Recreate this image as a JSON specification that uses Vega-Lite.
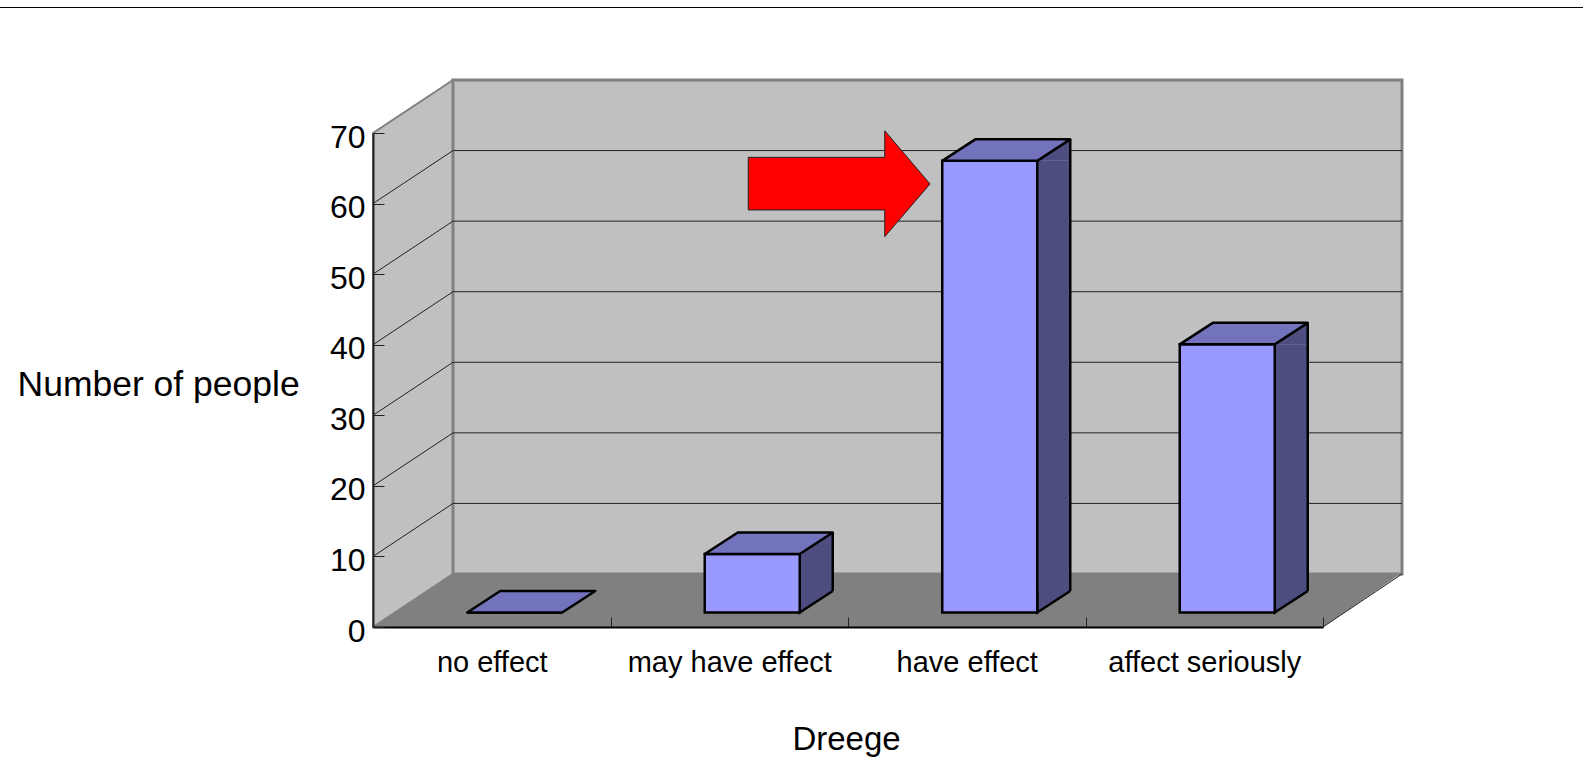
{
"$schema":"https://vega.github.io/schema/vega-lite/v6.json",
"width":950,"height":494,
"autosize":{"type":"none"},
"padding":{"left":373,"top":133,"right":260,"bottom":132},
"background":"white",
"config":{"view":{"stroke":null},"font":"Liberation Sans"},
"datasets":{
"bars":[{"category":"no effect","value":0},{"category":"may have effect","value":8.3},{"category":"have effect","value":64},{"category":"affect seriously","value":38}],
"grid":[{"tick":10},{"tick":20},{"tick":30},{"tick":40},{"tick":50},{"tick":60}]
},
"data":{"name":"bars"},
"encoding":{
"x":{"field":"category","type":"nominal","sort":null,"scale":{"type":"band","domain":["no effect","may have effect","have effect","affect seriously"],"paddingInner":0,"paddingOuter":0},
"axis":{"zindex":1,"title":"Dreege","titleFont":"Liberation Sans","titleFontSize":33,"titleFontWeight":"normal","titleColor":"black","titleX":473,"titleY":112,"titleBaseline":"middle","labelAngle":0,"labelFontSize":29,"labelColor":"black","labelPadding":31,"labelBaseline":"top","labelLimit":0,"domainColor":"black","domainWidth":2,"tickColor":"#222222","tickWidth":1,"tickSize":-10,"tickBand":"extent","labelOverlap":false}},
"y":{"field":"value","type":"quantitative","scale":{"domain":[0,70],"nice":false,"zero":true},
"axis":{"zindex":1,"values":[0,10,20,30,40,50,60,70],"title":"Number of people","titleFontSize":35.5,"titleFontWeight":"normal","titleColor":"black","titleAngle":0,"titleAlign":"left","titleBaseline":"middle","titleX":-356,"titleY":251,"labelFontSize":32,"labelColor":"black","labelPadding":19,"labelOffset":4,"domainColor":"#222222","domainWidth":2,"tickColor":"#222222","tickWidth":1,"tickSize":-11,"grid":false}}
},
"layer":[
{"transform":[{"filter":"datum.category==='no effect'"}],
 "mark":{"type":"point","filled":true,"opacity":1,"size":4,"fill":"#c0c0c0","stroke":"#808080","strokeWidth":2,"shape":"M80,-53 L0,0 L0,-494 L80,-547"},
 "encoding":{"x":{"field":"category","type":"nominal","bandPosition":0}}},
{"transform":[{"filter":"datum.category==='no effect'"}],
 "mark":{"type":"point","filled":true,"opacity":1,"size":4,"fill":"#c0c0c0","stroke":"#808080","strokeWidth":3,"shape":"M80,-53 L80,-547 L1029,-547 L1029,-53 Z"},
 "encoding":{"x":{"field":"category","type":"nominal","bandPosition":0}}},
{"transform":[{"filter":"datum.category==='no effect'"}],
 "mark":{"type":"point","filled":true,"opacity":1,"size":4,"fill":"#808080","strokeWidth":0,"shape":"M0,0 L80,-54 L1029,-54 L950,0 Z"},
 "encoding":{"x":{"field":"category","type":"nominal","bandPosition":0}}},
{"transform":[{"filter":"datum.category==='no effect'"}],
 "mark":{"type":"point","filled":false,"opacity":1,"size":4,"stroke":"#222222","strokeWidth":1,"shape":"M950,0 L1029,-53"},
 "encoding":{"x":{"field":"category","type":"nominal","bandPosition":0}}},
{"transform":[{"filter":"datum.category==='no effect'"}],
 "mark":{"type":"point","filled":false,"opacity":1,"size":4,"stroke":"black","strokeWidth":1,"shape":"M-373,-619.5 L1210,-619.5"},
 "encoding":{"x":{"field":"category","type":"nominal","bandPosition":0}}},
{"data":{"name":"grid"},
 "mark":{"type":"point","filled":false,"opacity":1,"size":4,"stroke":"#222222","strokeWidth":1,"shape":"M0,0 L80,-53 L1029,-53"},
 "encoding":{"x":{"datum":"no effect","type":"nominal","bandPosition":0},"y":{"field":"tick","type":"quantitative"}}},
{"transform":[{"filter":"datum.value>0"}],
 "mark":{"type":"bar","size":33,"xOffset":87,"yOffset":-14.5,"y2Offset":-36,"fill":"#4d4d80"},
 "encoding":{"y2":{"datum":0}}},
{"transform":[{"filter":"datum.value>0"}],
 "mark":{"type":"point","filled":true,"opacity":1,"size":4,"fill":"#4d4d80","stroke":"black","strokeWidth":2.5,"shape":"M103.5,-36 L70.5,-14.5 L70.5,-36"},
 "encoding":{"y":{"datum":0}}},
{"transform":[{"filter":"datum.value>0"}],
 "mark":{"type":"point","filled":true,"opacity":1,"size":4,"fill":"#4d4d80","strokeWidth":0,"shape":"M70.5,-14.5 L103.5,-36 L103.5,-14.5 Z"}},
{"transform":[{"filter":"datum.value>0"}],
 "mark":{"type":"rule","xOffset":103.5,"yOffset":-36,"y2Offset":-36,"stroke":"black","strokeWidth":2.5},
 "encoding":{"y2":{"datum":0}}},
{"mark":{"type":"bar","size":95,"xOffset":23,"yOffset":-14.5,"y2Offset":-14.5,"fill":"#9999ff","stroke":"black","strokeWidth":2.5}},
{"mark":{"type":"point","filled":true,"opacity":1,"size":4,"fill":"#7373bd","stroke":"black","strokeWidth":2.5,"strokeJoin":"round","shape":"M-24.5,-14.5 L70.5,-14.5 L103.5,-36 L8.5,-36 Z"}},
{"transform":[{"filter":"datum.category==='have effect'"}],
 "mark":{"type":"point","filled":true,"opacity":1,"size":4,"fill":"#ff0000","stroke":"#222222","strokeWidth":1,"shape":"M-218.5,-18 L-82,-18 L-82,-44.6 L-36.75,8.6 L-82,61.3 L-82,34.6 L-218.5,34.6 Z"}}
]
}
